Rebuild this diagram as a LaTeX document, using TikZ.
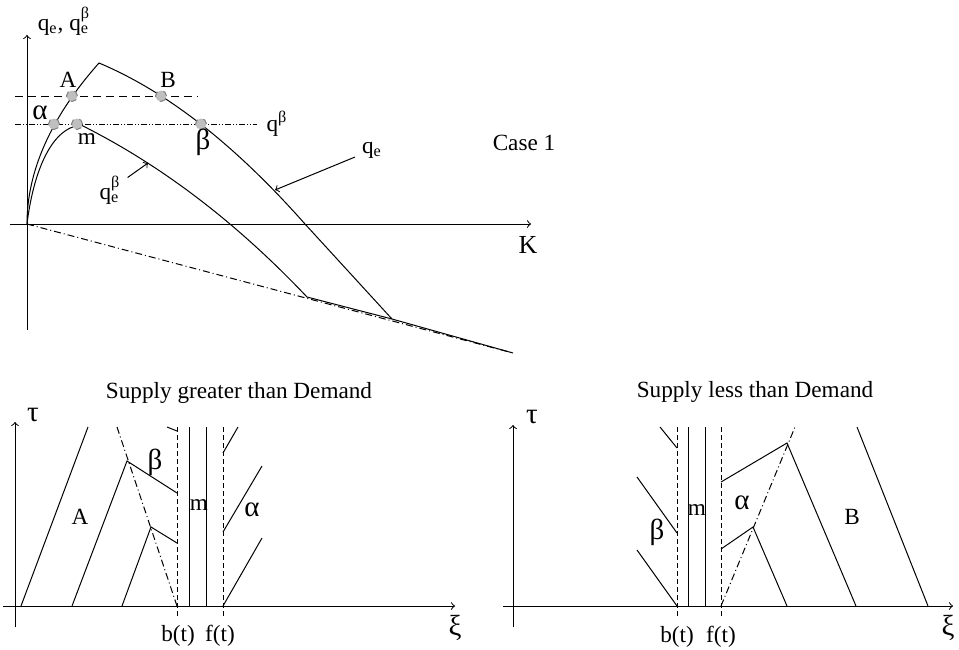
\documentclass[tikz,border=0pt]{standalone}
\usepackage{fontspec}
\usepackage{amsmath}
\setmainfont{Liberation Serif}
\usetikzlibrary{positioning}

\newcommand{\qe}{q$_\text{e}$}
\newcommand{\qeb}{q$_\text{e}^\text{β}$}
\newcommand{\qbeta}{q$^\text{β}$}

\tikzset{
  punto/.style={circle, draw=gray, dashed, fill=gray!50, inner sep=0pt, minimum size=5.5pt},
  greco/.style={font=\fontsize{14.5}{16}\selectfont},
  tratto/.style={dash pattern=on 4pt off 2.5pt},
  puntolinea/.style={dash pattern=on 3.5pt off 1.5pt on 0.5pt off 1.5pt},
  duepunti/.style={dash pattern=on 3pt off 1pt on 0.5pt off 1pt on 0.5pt off 1pt},
  fronte/.style={dash pattern=on 2.5pt off 1.5pt},
}

\begin{document}
\begin{tikzpicture}[x=0.5pt, y=-0.5pt, line width=0.5pt, font=\fontsize{11.6}{14}\selectfont]
\useasboundingbox (0,0) rectangle (959,649);

% grafico superiore
\draw[->] (27,330) -- (27,35);
\draw[->] (10,224) -- (531,224);
\node (assey) at (64,21) {\qe, \qeb};
\node (assex) at (528,245) {\fontsize{13}{14}\selectfont K};

\draw[tratto] (15,96) -- (198,96);
\draw[duepunti] (15,124) -- (257,124);
\node (qbeta) at (277,124) {\qbeta};
\draw[puntolinea] (27,224) -- (513,353);

% q_e
\draw (27,224) .. controls (27,171) and (51,117) .. (99,63)
  .. controls (168,92) and (236,146) .. (305,224) -- (392,319) -- (513,353);
% q_e^beta
\draw (27,224) .. controls (33,175) and (50,128) .. (81,125)
  .. controls (161,165) and (236,222) .. (307,297) -- (392,319);

\node[punto] (A) at (72,96) {};
\node[punto] (B) at (161,96) {};
\node[punto] (alfa) at (54,124) {};
\node[punto] (m) at (77,124) {};
\node[punto] (beta) at (201,124) {};
\node (Alab) at (68,80) {A};
\node (Blab) at (168,80) {B};
\node[greco] (alfalab) at (40,113) {α};
\node (mlab) at (87,139) {m};
\node[greco] (betalab) at (203,142) {β};

\coordinate (qepunta) at (275,190);
\coordinate (qebpunta) at (148,163);
\node (qelab) at (372,150) {\qe};
\node (qeblab) at (110,190) {\qeb};
\draw[->] (qelab) -- (qepunta);
\draw[->] (qeblab) -- (qebpunta);

\node (caso) at (524,143) {Case 1};

% grafico sinistro
\node (titolosx) at (239,393) {Supply greater than Demand};
\draw[->] (15,627) -- (15,422);
\draw[->] (3,606) -- (455,606);
\node[greco] (tausx) at (33,415) {τ};
\node[greco] (xisx) at (455,628) {ξ};

\draw (21,606) -- (88,427);
\draw (72,606) -- (127,461) -- (177,493);
\draw (122,606) -- (151,527) -- (177,543);
\draw (167,427) -- (177,431);
\draw[puntolinea] (117,427) -- (177,606);
\draw[fronte] (177,427) -- (177,617);
\draw (189,427) -- (189,606);
\draw (206,427) -- (206,606);
\draw[fronte] (223,427) -- (223,617);
\draw (223,606) -- (262,538);
\draw (223,532) -- (262,466);
\draw (223,453) -- (238,427);

\node (Asx) at (80,517) {A};
\node[greco] (betasx) at (155,462) {β};
\node (msx) at (199,505) {m};
\node[greco] (alfasx) at (252,510) {α};
\node (bsx) at (178,636) {b(t)};
\node (fsx) at (220,636) {f(t)};

% grafico destro
\node (titolodx) at (755,392) {Supply less than Demand};
\draw[->] (513,627) -- (513,425);
\draw[->] (503,606) -- (953,606);
\node[greco] (taudx) at (532,417) {τ};
\node[greco] (xidx) at (948,628) {ξ};

\draw (660,427) -- (677,448);
\draw (637,477) -- (677,533);
\draw (637,550) -- (677,606);
\draw[fronte] (677,427) -- (677,617);
\draw (688,427) -- (688,606);
\draw (705,427) -- (705,606);
\draw[fronte] (721,427) -- (721,617);
\draw (721,482) -- (787,443) -- (856,606);
\draw (721,549) -- (753,527) -- (787,606);
\draw (857,427) -- (928,606);
\draw[puntolinea] (721,606) -- (795,427);

\node[greco] (betadx) at (657,532) {β};
\node (mdx) at (697,510) {m};
\node[greco] (alfadx) at (742,503) {α};
\node (Bdx) at (852,517) {B};
\node (bdx) at (677,637) {b(t)};
\node (fdx) at (721,637) {f(t)};

\end{tikzpicture}
\end{document}
